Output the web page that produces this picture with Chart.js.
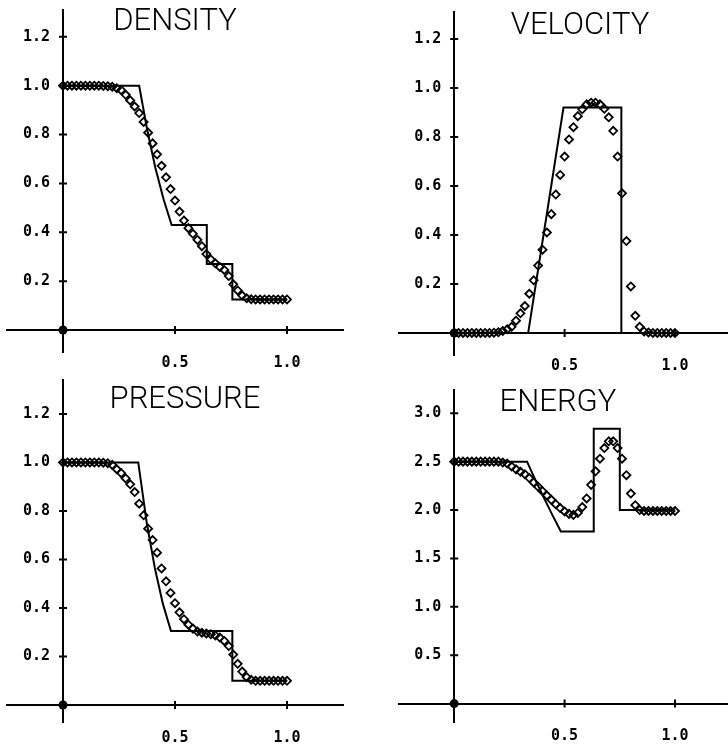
<!DOCTYPE html>
<html>
<head>
<meta charset="utf-8">
<script src="https://cdn.jsdelivr.net/npm/chart.js@4/dist/chart.umd.min.js"></script>
<style>
  html, body { margin: 0; padding: 0; background: #fff; overflow: hidden; }
  #wrap { position: relative; width: 728px; height: 751px; overflow: hidden; background: #fff; }
  canvas { position: absolute; }
</style>
</head>
<body>
<div id="wrap">
  <canvas id="density" width="364" height="375" style="left:0;top:0"></canvas>
  <canvas id="velocity" width="372" height="373" style="left:364px;top:2px"></canvas>
  <canvas id="pressure" width="364" height="381" style="left:0;top:370px"></canvas>
  <canvas id="energy" width="372" height="371" style="left:364px;top:380px"></canvas>
</div>
<script>
// cell positions of the numerical solution
const xGrid = [0, 0.02, 0.04, 0.06, 0.08, 0.1, 0.12, 0.14, 0.16, 0.18,
  0.2, 0.22, 0.24, 0.26, 0.28, 0.3, 0.32, 0.34, 0.36, 0.38,
  0.4, 0.42, 0.44, 0.46, 0.48, 0.5, 0.52, 0.54, 0.56, 0.58,
  0.6, 0.62, 0.64, 0.66, 0.68, 0.7, 0.72, 0.74, 0.76, 0.78,
  0.8, 0.82, 0.84, 0.86, 0.88, 0.9, 0.92, 0.94, 0.96, 0.98, 1.0];

// numerical values (diamonds)
const densityNum = [1, 1, 1, 1, 1, 1, 1, 1, 1, 0.999,
  0.998, 0.996, 0.99, 0.982, 0.963, 0.94, 0.915, 0.888, 0.852, 0.808,
  0.764, 0.719, 0.672, 0.625, 0.577, 0.53, 0.485, 0.448, 0.417, 0.394,
  0.369, 0.343, 0.311, 0.289, 0.273, 0.258, 0.246, 0.221, 0.187, 0.162,
  0.141, 0.13, 0.126, 0.125, 0.125, 0.125, 0.125, 0.125, 0.125, 0.125, 0.125];
const velocityNum = [0, 0, 0, 0, 0, 0, 0, 0, 0, 0.001,
  0.003, 0.008, 0.015, 0.025, 0.05, 0.08, 0.11, 0.16, 0.215, 0.275,
  0.34, 0.41, 0.485, 0.565, 0.645, 0.72, 0.79, 0.84, 0.885, 0.913,
  0.933, 0.94, 0.94, 0.933, 0.915, 0.88, 0.825, 0.72, 0.57, 0.375,
  0.19, 0.07, 0.025, 0.006, 0.002, 0, 0, 0, 0, 0, 0];
const pressureNum = [1, 1, 1, 1, 1, 1, 1, 1, 1, 0.999,
  0.997, 0.99, 0.972, 0.956, 0.934, 0.91, 0.878, 0.83, 0.782, 0.727,
  0.68, 0.628, 0.563, 0.51, 0.462, 0.42, 0.382, 0.354, 0.331, 0.315,
  0.303, 0.298, 0.295, 0.292, 0.287, 0.278, 0.264, 0.243, 0.208, 0.17,
  0.138, 0.115, 0.104, 0.1, 0.1, 0.1, 0.1, 0.1, 0.1, 0.1, 0.1];
const energyNum = [2.5, 2.5, 2.5, 2.5, 2.5, 2.5, 2.5, 2.5, 2.5, 2.5,
  2.5, 2.49, 2.48, 2.45, 2.42, 2.395, 2.37, 2.33, 2.285, 2.24,
  2.195, 2.15, 2.105, 2.06, 2.02, 1.985, 1.96, 1.95, 1.97, 2.03,
  2.12, 2.26, 2.4, 2.53, 2.64, 2.71, 2.71, 2.64, 2.53, 2.36,
  2.17, 2.05, 2.0, 1.99, 1.99, 1.99, 1.99, 1.99, 1.99, 1.99, 1.99];

// exact solution (solid line)
const densityExactX = [0, 0.34, 0.376, 0.412, 0.449, 0.485, 0.642, 0.642, 0.756, 0.756, 1.0];
const densityExactY = [1.0, 1.0, 0.819, 0.665, 0.535, 0.43, 0.43, 0.27, 0.27, 0.125, 0.125];
const velocityExactX = [0, 0.335, 0.495, 0.757, 0.757, 1.0];
const velocityExactY = [0, 0, 0.92, 0.92, 0, 0];
const pressureExactX = [0, 0.336, 0.373, 0.41, 0.446, 0.482, 0.756, 0.756, 1.0];
const pressureExactY = [1.0, 1.0, 0.756, 0.565, 0.417, 0.305, 0.305, 0.1, 0.1];
const energyExactX = [0, 0.33, 0.368, 0.407, 0.445, 0.483, 0.632, 0.632, 0.75, 0.75, 1.0];
const energyExactY = [2.5, 2.5, 2.308, 2.123, 1.947, 1.778, 1.778, 2.84, 2.84, 2.0, 2.0];

// tick labels
const xTicks = [0.5, 1.0];
const unitTicks = [0.2, 0.4, 0.6, 0.8, 1.0, 1.2];
const energyTicks = [0.5, 1.0, 1.5, 2.0, 2.5, 3.0];

const tickFont = { family: '"DejaVu Sans Mono", monospace', size: 15, weight: 'bold' };

const zip = (xs, ys) => xs.map((x, i) => ({ x: x, y: ys[i] }));

// crossing tick marks, origin dot and the panel title
const axisDecor = {
  id: 'axisDecor',
  afterDraw(chart, args, opts) {
    const { ctx, scales: { x, y, yl } } = chart;
    const x0 = x.getPixelForValue(0);
    const y0 = y.getPixelForValue(0);
    ctx.save();
    ctx.strokeStyle = '#000';
    ctx.lineWidth = 2;
    ctx.beginPath();
    x.ticks.forEach(t => {
      const px = x.getPixelForValue(t.value);
      ctx.moveTo(px, y0 - 4);
      ctx.lineTo(px, y0 + 4);
    });
    yl.ticks.forEach(t => {
      const py = y.getPixelForValue(t.value);
      ctx.moveTo(x0 - 4, py);
      ctx.lineTo(x0 + 4, py);
    });
    ctx.stroke();
    ctx.beginPath();
    ctx.arc(x0, y0, 4.5, 0, Math.PI * 2);
    ctx.fillStyle = '#000';
    ctx.fill();
    ctx.font = '300 31px Roboto, "Liberation Sans", sans-serif';
    ctx.textAlign = 'center';
    ctx.textBaseline = 'middle';
    ctx.fillText(opts.text, opts.cx, opts.cy);
    ctx.restore();
  }
};

function makePanel(id, title, titlePos, exactX, exactY, num, yTicks, yMin, yMax, pad) {
  const yScale = (show, pos) => ({
    type: 'linear',
    min: yMin,
    max: yMax,
    bounds: 'data',
    position: pos,
    grid: { display: false },
    border: { display: !show, width: 2, color: '#000' },
    ticks: { display: show, padding: 0, color: '#000', font: tickFont, autoSkip: false,
      callback: v => Number(v).toFixed(1) },
    afterBuildTicks: s => { s.ticks = yTicks.map(v => ({ value: v })); }
  });
  new Chart(document.getElementById(id), {
    type: 'scatter',
    data: {
      datasets: [
        {
          data: zip(exactX, exactY),
          showLine: true,
          borderColor: '#000',
          borderWidth: 2,
          pointRadius: 0,
          tension: 0
        },
        {
          data: zip(xGrid, num),
          showLine: false,
          pointStyle: 'rectRot',
          pointRadius: 4,
          borderWidth: 1.8,
          borderColor: '#000',
          backgroundColor: 'rgba(0,0,0,0)'
        }
      ]
    },
    options: {
      responsive: false,
      animation: false,
      events: [],
      layout: { padding: pad },
      plugins: {
        legend: { display: false },
        tooltip: { enabled: false },
        axisDecor: { text: title, cx: titlePos[0], cy: titlePos[1] }
      },
      scales: {
        x: {
          type: 'linear',
          min: -0.25,
          max: 1.25,
          bounds: 'data',
          position: { y: 0 },
          grid: { display: false, drawTicks: true, tickLength: 24 },
          border: { display: true, width: 2, color: '#000' },
          ticks: { padding: 0, color: '#000', font: tickFont, autoSkip: false, maxRotation: 0,
            callback: v => Number(v).toFixed(1) },
          afterBuildTicks: s => { s.ticks = xTicks.map(v => ({ value: v })); }
        },
        // axis line through x = 0
        y: yScale(false, { x: 0 }),
        // tick labels, a little left of the axis line
        yl: yScale(true, { x: -0.058 })
      }
    },
    plugins: [axisDecor]
  });
}

makePanel('density', 'DENSITY', [175, 22], densityExactX, densityExactY, densityNum,
  unitTicks, -0.09, 1.31, { left: 7, right: 21, top: 10, bottom: 23 });
makePanel('velocity', 'VELOCITY', [216, 24], velocityExactX, velocityExactY, velocityNum,
  unitTicks, -0.09, 1.31, { left: 35, right: 1, top: 10, bottom: 20 });
makePanel('pressure', 'PRESSURE', [185, 30], pressureExactX, pressureExactY, pressureNum,
  unitTicks, -0.07, 1.34, { left: 7, right: 21, top: 10, bottom: 29 });
makePanel('energy', 'ENERGY', [194, 23], energyExactX, energyExactY, energyNum,
  energyTicks, -0.19, 3.24, { left: 35, right: 1, top: 10, bottom: 29 });
</script>
</body>
</html>
